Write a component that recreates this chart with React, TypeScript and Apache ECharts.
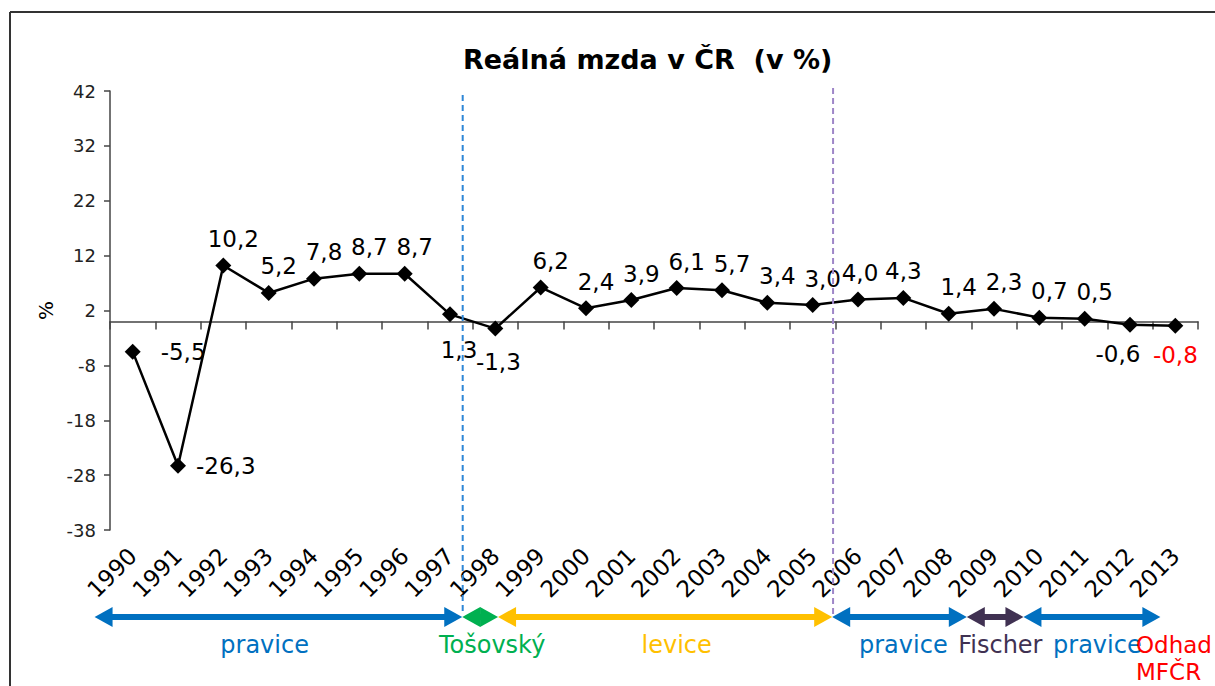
import React, { useEffect, useRef } from 'react';
import * as echarts from 'echarts';

// ---------- data ----------
const years = ['1990', '1991', '1992', '1993', '1994', '1995', '1996', '1997', '1998', '1999', '2000', '2001',
  '2002', '2003', '2004', '2005', '2006', '2007', '2008', '2009', '2010', '2011', '2012', '2013'];
const realWageGrowth = [-5.5, -26.3, 10.2, 5.2, 7.8, 8.7, 8.7, 1.3, -1.3, 6.2, 2.4, 3.9,
  6.1, 5.7, 3.4, 3.0, 4.0, 4.3, 1.4, 2.3, 0.7, 0.5, -0.6, -0.8];
const yTickValues = [-38, -28, -18, -8, 2, 12, 22, 32, 42];
const periodNames = ['pravice', 'Tošovský', 'levice', 'pravice', 'Fischer', 'pravice'];
const periodStarts = [1989.16, 1997.27, 1998.06, 2005.43, 2008.4, 2009.65];
const periodEnds = [1997.27, 1998.06, 2005.43, 2008.4, 2009.65, 2012.67];
const periodLabelAt = [1992.91, 1997.93, 2002.0, 2007.0, 2009.14, 2011.28];
const governmentChanges = [1997.28, 2005.45];
const forecastNote = ['Odhad', 'MFČR'];
const titleText = 'Reálná mzda v ČR  (v %)';

// ---------- styles ----------
const FONT = 'DejaVu Sans';
const periodColors = ['#0070C0', '#00B050', '#FFC000', '#0070C0', '#403152', '#0070C0'];
const changeLineColors = ['#2E86D6', '#9E86C8'];
const changeLineTops = [95, 88];

const labelTweaks: Record<number, any> = {
  0: { position: 'right', distance: 20, offset: [0, 0] },
  1: { position: 'right', distance: 10, offset: [0, 0] },
  7: { position: 'bottom', distance: 16, offset: [9, 0] },
  8: { position: 'bottom', distance: 14, offset: [3, 0] },
  16: { offset: [2, 0] },
  17: { offset: [0, 0] },
  22: { position: 'bottom', distance: 10, offset: [-12, 0] },
  23: { position: 'bottom', distance: 10, offset: [0, 0], color: '#FF0000' },
};

const fmt = (v: number) => v.toFixed(1).replace('.', ',');

export default function App() {
  const ref = useRef<HTMLDivElement>(null);

  useEffect(() => {
    if (!ref.current) return;
    const chart = echarts.init(ref.current, null, { renderer: 'svg' });

    const option: any = {
      animation: false,
      backgroundColor: '#fff',
      title: {
        text: titleText,
        left: 458,
        top: 41,
        textStyle: { fontSize: 27, fontWeight: 'bold', fontFamily: FONT, color: '#000' },
      },
      grid: { left: 110, right: 17, top: 91, bottom: 156, containLabel: false, outerBoundsMode: 'none' },
      xAxis: [
        {
          type: 'category',
          data: years,
          position: 'bottom',
          boundaryGap: true,
          axisLine: { show: false, onZero: false },
          axisTick: { show: false },
          axisLabel: { rotate: 45, margin: 22, fontSize: 23, color: '#000', fontFamily: FONT, interval: 0 },
        },
        {
          type: 'category',
          data: years,
          position: 'top',
          boundaryGap: true,
          axisLine: { show: true, onZero: true, lineStyle: { color: '#444', width: 1.5 } },
          axisTick: { show: true, inside: true, length: 8, interval: 0, lineStyle: { color: '#444', width: 1.5 } },
          axisLabel: { show: false },
        },
        { type: 'value', min: 1989.5, max: 2013.5, show: false },
      ],
      yAxis: {
        type: 'value',
        min: -38,
        max: 42,
        name: '%',
        nameLocation: 'middle',
        nameGap: 44,
        nameRotate: 90,
        nameTextStyle: { fontSize: 20, color: '#000', fontFamily: FONT },
        axisLine: { show: true, onZero: false, lineStyle: { color: '#444', width: 1.5 } },
        axisTick: { show: true, length: 6, customValues: yTickValues, lineStyle: { color: '#444', width: 1.5 } },
        axisLabel: { customValues: yTickValues, fontSize: 18, color: '#222', margin: 14, fontFamily: FONT },
        splitLine: { show: false },
      },
      series: [
        {
          type: 'line',
          xAxisIndex: 0,
          yAxisIndex: 0,
          data: realWageGrowth.map((v, i) => ({ value: v, label: labelTweaks[i] })),
          symbol: 'diamond',
          symbolSize: 16,
          itemStyle: { color: '#000' },
          lineStyle: { color: '#000', width: 2.5 },
          label: {
            show: true,
            position: 'top',
            distance: 7,
            offset: [10, 0],
            fontSize: 23,
            fontFamily: FONT,
            color: '#000',
            formatter: (p: any) => fmt(p.value),
          },
        },
      ],
    };
    chart.setOption(option);

    const px = (yr: number) => chart.convertToPixel({ xAxisIndex: 2 } as any, yr) as number;
    const arrowY = 617;
    const headLen = 18;
    const headHalf = 10;
    const graphics: any[] = [
      { type: 'line', shape: { x1: 10, y1: 12, x2: 1215, y2: 12 }, style: { stroke: '#333', lineWidth: 2 } },
      { type: 'line', shape: { x1: 10, y1: 12, x2: 10, y2: 686 }, style: { stroke: '#333', lineWidth: 2 } },
    ];
    governmentChanges.forEach((yr, i) => {
      const x = px(yr);
      graphics.push({
        type: 'line',
        shape: { x1: x, y1: changeLineTops[i], x2: x, y2: 614 },
        style: { stroke: changeLineColors[i], lineWidth: 2, lineDash: [6, 4] },
        z: 5,
      });
    });
    periodNames.forEach((name, i) => {
      const x1 = px(periodStarts[i]);
      const x2 = px(periodEnds[i]);
      const c = periodColors[i];
      graphics.push({
        type: 'line',
        shape: { x1: x1 + headLen - 2, y1: arrowY, x2: x2 - headLen + 2, y2: arrowY },
        style: { stroke: c, lineWidth: 6 },
        z: 6,
      });
      graphics.push({
        type: 'polygon',
        shape: { points: [[x1, arrowY], [x1 + headLen, arrowY - headHalf], [x1 + headLen, arrowY + headHalf]] },
        style: { fill: c },
        z: 6,
      });
      graphics.push({
        type: 'polygon',
        shape: { points: [[x2, arrowY], [x2 - headLen, arrowY - headHalf], [x2 - headLen, arrowY + headHalf]] },
        style: { fill: c },
        z: 6,
      });
      graphics.push({
        type: 'text',
        x: px(periodLabelAt[i]),
        y: 645,
        style: { text: name, fill: c, fontSize: 24, fontFamily: FONT, align: 'center', verticalAlign: 'middle' },
        z: 7,
      });
    });
    forecastNote.forEach((t, i) => {
      graphics.push({
        type: 'text',
        x: 1136,
        y: 645 + i * 27,
        style: { text: t, fill: '#FF0000', fontSize: 23, fontFamily: FONT, align: 'left', verticalAlign: 'middle' },
        z: 8,
      });
    });
    chart.setOption({ graphic: graphics });

    return () => chart.dispose();
  }, []);

  return (
    <div
      ref={ref}
      style={{ position: 'fixed', left: 0, top: 0, width: 1215, height: 686, background: '#fff' }}
    />
  );
}
